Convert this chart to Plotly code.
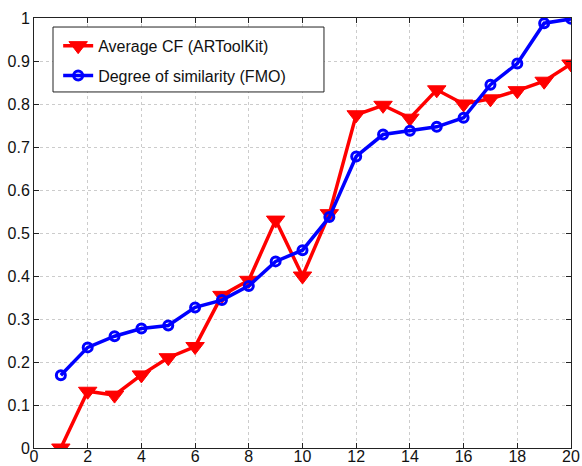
import plotly.graph_objects as go

x_vals = list(range(1, 21))
avg_cf = [0.0, 0.132, 0.123, 0.17, 0.21, 0.236, 0.355, 0.39, 0.53, 0.40,
          0.545, 0.775, 0.797, 0.767, 0.833, 0.80, 0.812, 0.831, 0.853, 0.893]
similarity = [0.169, 0.234, 0.26, 0.278, 0.285, 0.327, 0.344, 0.377, 0.434, 0.46,
              0.537, 0.678, 0.729, 0.738, 0.747, 0.768, 0.845, 0.894, 0.988, 0.998]
names = ["Average CF (ARToolKit)", "Degree of similarity (FMO)"]

fig = go.Figure()
fig.add_trace(go.Scatter(
    x=x_vals, y=avg_cf, name=names[0], mode="lines+markers", legendgroup="a",
    line=dict(color="#ff0000", width=3.5),
    marker=dict(symbol="triangle-down", size=16, color="#ff0000",
                line=dict(color="#ff0000", width=1)),
))
fig.add_trace(go.Scatter(
    x=x_vals, y=similarity, name=names[1], mode="lines+markers", legendgroup="b",
    line=dict(color="#0000ff", width=3.5),
    marker=dict(symbol="circle-open", size=9, color="#0000ff",
                line=dict(color="#0000ff", width=3)),
))

axis_common = dict(
    showline=True, linecolor="#222222", linewidth=1, mirror="ticks",
    ticks="inside", ticklen=5, tickcolor="#222222",
    showgrid=True, gridcolor="#cccccc", griddash="dot", gridwidth=1,
    zeroline=False, automargin=False,
    tickfont=dict(family="Liberation Sans, Arial", size=16, color="#111111"),
)

fig.update_xaxes(range=[0, 20], dtick=2, tick0=0, ticklabelstandoff=-6, **axis_common)
fig.update_yaxes(range=[0, 1], dtick=0.1, tick0=0, **axis_common)

# legend frame
fig.add_shape(type="rect", xref="paper", yref="paper",
              x0=0.0354, x1=0.540, y0=0.828, y1=0.979,
              line=dict(color="#222222", width=1), fillcolor="white", layer="above")

fig.update_layout(
    width=582, height=466,
    margin=dict(l=34, r=11, t=18, b=18),
    plot_bgcolor="white", paper_bgcolor="white",
    showlegend=True,
    legend=dict(
        x=0.045, y=0.975, xanchor="left", yanchor="top",
        bgcolor="rgba(0,0,0,0)", borderwidth=0,
        font=dict(family="Liberation Sans, Arial", size=16, color="#111111"),
        tracegroupgap=6,
    ),
)

fig.write_html("out.html")
